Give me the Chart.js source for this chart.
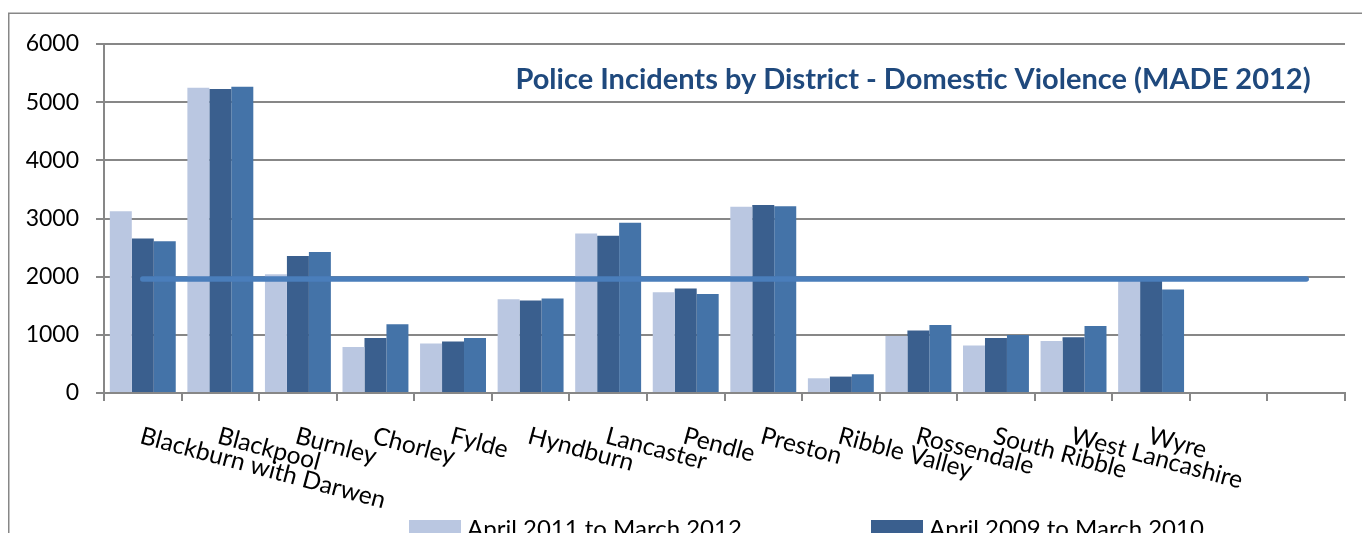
<!DOCTYPE html>
<html>
<head>
<meta charset="utf-8">
<script src="https://cdn.jsdelivr.net/npm/chart.js@4.4.1/dist/chart.umd.min.js"></script>
<style>
html,body{margin:0;padding:0;background:#fff;overflow:hidden}
#wrap{width:1362px;height:533px;position:relative}
</style>
</head>
<body>
<div id="wrap"><canvas id="c"></canvas></div>
<script>
const categories = ['Blackburn with Darwen','Blackpool','Burnley','Chorley','Fylde','Hyndburn','Lancaster','Pendle','Preston','Ribble Valley','Rossendale','South Ribble','West Lancashire','Wyre','',''];
const seriesLabels = ['April 2011 to March 2012','April 2009 to March 2010','April 2010 to March 2011','Average'];
const values2011 = [3126,5248,2042,791,850,1612,2742,1733,3200,253,981,815,895,1930,null,null];
const values2009 = [2657,5225,2357,946,884,1590,2702,1796,3230,282,1073,946,958,1950,null,null];
const values2010 = [2610,5265,2426,1182,946,1624,2925,1704,3212,322,1170,998,1153,1779,null,null];
const averageLine = [1960,1960,1960,1960,1960,1960,1960,1960,1960,1960,1960,1960,1960,1960,1960,1960];
const yTicks = [0,1000,2000,3000,4000,5000,6000];
const titleText = 'Police Incidents by District - Domestic Violence (MADE 2012)';

const colors = ['#BAC7E1','#3A5F8E','#4473A8','#4A7EBB'];
const gridGray = '#878787';

const decor = {
  id: 'decor',
  beforeDraw(chart) {
    const ctx = chart.ctx;
    ctx.save();
    ctx.fillStyle = '#fff';
    ctx.fillRect(0, 0, chart.width, chart.height);
    ctx.strokeStyle = gridGray;
    ctx.lineWidth = 1.5;
    ctx.beginPath();
    ctx.moveTo(8.75, chart.height + 5);
    ctx.lineTo(8.75, 13.25);
    ctx.lineTo(chart.width + 5, 13.25);
    ctx.stroke();
    ctx.restore();
  },
  afterDraw(chart) {
    const ctx = chart.ctx;
    const xs = chart.scales.x;
    ctx.save();
    // rotated category labels
    ctx.font = '24.5px Lato';
    ctx.fillStyle = '#000';
    ctx.textAlign = 'left';
    ctx.textBaseline = 'alphabetic';
    categories.forEach((lab, i) => {
      if (!lab) return;
      const x = xs.getPixelForValue(i);
      ctx.save();
      ctx.translate(x - 4, 443);
      ctx.rotate(15 * Math.PI / 180);
      ctx.fillText(lab, 0, 0);
      ctx.restore();
    });
    // title
    ctx.font = 'bold 29px Lato';
    ctx.fillStyle = '#1F497D';
    ctx.textAlign = 'center';
    ctx.fillText(titleText, 913, 89);
    // legend (2 columns, second row falls below the visible area)
    ctx.font = '24px Lato';
    ctx.textAlign = 'left';
    const order = [1, 2, 3, 0];
    order.forEach((di, k) => {
      const ds = chart.data.datasets[di];
      const col = k % 2, row = Math.floor(k / 2);
      const x = 409 + col * 462;
      const y = 520 + row * 34;
      ctx.fillStyle = ds.backgroundColor;
      ctx.fillRect(x, y, 52, 14);
      ctx.fillStyle = '#000';
      ctx.fillText(ds.label, x + 58, y + 17);
    });
    ctx.restore();
  }
};

new Chart(document.getElementById('c'), {
  type: 'bar',
  data: {
    labels: categories,
    datasets: [
      { type: 'line', label: seriesLabels[3], data: averageLine, borderColor: colors[3], backgroundColor: colors[3],
        borderWidth: 5.5, pointRadius: 0, borderCapStyle: 'round', order: 0, tension: 0 },
      { label: seriesLabels[0], data: values2011, backgroundColor: colors[0], order: 1 },
      { label: seriesLabels[1], data: values2009, backgroundColor: colors[1], order: 1 },
      { label: seriesLabels[2], data: values2010, backgroundColor: colors[2], order: 1 }
    ]
  },
  options: {
    responsive: true,
    maintainAspectRatio: false,
    animation: false,
    events: [],
    layout: { padding: { left: 0, top: 44, right: 17, bottom: 0 } },
    datasets: { bar: { categoryPercentage: 0.85, barPercentage: 1.0 } },
    plugins: { legend: { display: false }, title: { display: false }, tooltip: { enabled: false } },
    scales: {
      x: {
        offset: true,
        grid: { offset: true, drawOnChartArea: false, drawTicks: true, tickLength: 8, color: gridGray, lineWidth: 2 },
        border: { display: true, color: gridGray, width: 2 },
        ticks: { display: false },
        afterFit(s) { s.height = 140; }
      },
      y: {
        min: 0, max: 6000,
        afterBuildTicks(s) { s.ticks = yTicks.map(v => ({ value: v })); },
        grid: { color: gridGray, lineWidth: 2, drawTicks: true, tickLength: 8 },
        border: { display: true, color: gridGray, width: 2 },
        ticks: { font: { family: 'Lato', size: 23 }, color: '#000', padding: 17, callback: v => String(v) },
        afterFit(s) { s.width = 104; }
      }
    }
  },
  plugins: [decor]
});
</script>
</body>
</html>
